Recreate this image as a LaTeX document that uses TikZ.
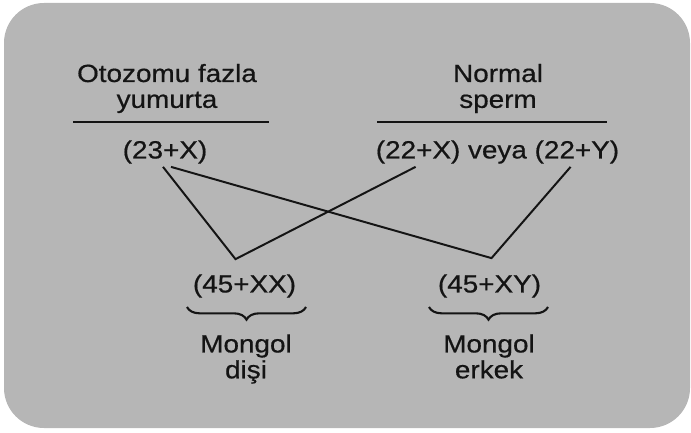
\documentclass[tikz,border=0pt]{standalone}
\usepackage{fontspec}
\setmainfont{Liberation Sans}[FakeStretch=1.12, FakeBold=0.6]
\usepackage{xcolor}
\definecolor{cardgray}{RGB}{182, 182, 182}
\definecolor{inkblack}{RGB}{20, 20, 20}
\usetikzlibrary{calc, decorations.pathreplacing}

\begin{document}
\begin{tikzpicture}[x=0.025cm, y=-0.025cm,
    font=\fontsize{17.7}{18.4}\selectfont,
    every node/.style={inner sep=0pt, text=inkblack},
    cross/.style={line width=1.4pt, inkblack, line join=miter},
    rule/.style={line width=1.7pt, inkblack},
    mongolbrace/.style={line width=1.5pt, inkblack, decorate,
        decoration={brace, mirror, amplitude=9pt, aspect=0.5}}]

% =====================================================
% FONDO: tarjeta gris
% =====================================================
\useasboundingbox (0, 0) rectangle (691, 433);
\fill[cardgray, rounded corners=1cm] (4, 3) rectangle (690, 428);

% =====================================================
% GAMETOS (arriba)
% =====================================================

% --- Yumurta ---
\node[align=center] (eggHead) at (167, 88.5) {Otozomu fazla\\yumurta};
\draw[rule] (73, 122) -- (269, 122);
\node (eggX) at (165, 152) {(23+X)};

% --- Sperm ---
\node[align=center] (spermHead) at (498, 88.5) {Normal\\sperm};
\draw[rule] (377, 122) -- (607, 122);
\node (spermXY) at (497.5, 152) {(22+X) veya (22+Y)};

% =====================================================
% ZIGOTLAR (abajo)
% =====================================================
\node (zygXX) at (244.5, 286) {(45+XX)};
\node (zygXY) at (489.5, 286) {(45+XY)};

% puntos de union sobre los zigotlar
\coordinate (tipXX) at ($(zygXX.north)+(-9, -15)$);
\coordinate (tipXY) at ($(zygXY.north)+(2, -16)$);

% pies de las lineas bajo los gametos
\coordinate (eggFootA) at ($(eggX.south)+(-2, 3)$);
\coordinate (eggFootB) at ($(eggX.south)+(6, 3)$);
\coordinate (spermFootX) at ($(spermXY.south west)+(40, 3)$);
\coordinate (spermFootY) at ($(spermXY.south west)+(195, 3)$);

% --- Cruzamiento ---
\draw[cross] (eggFootA) -- (tipXX) -- (spermFootX);
\draw[cross] (eggFootB) -- (tipXY) -- (spermFootY);

% --- Llaves ---
\draw[mongolbrace] (187, 307) -- (306, 307);
\draw[mongolbrace] (429, 307) -- (548, 307);

% --- Etiquetas ---
\node[align=center] (femaleLabel) at (246, 359) {Mongol\\dişi};
\node[align=center] (maleLabel) at (489, 356.5) {Mongol\\erkek};

\end{tikzpicture}
\end{document}
